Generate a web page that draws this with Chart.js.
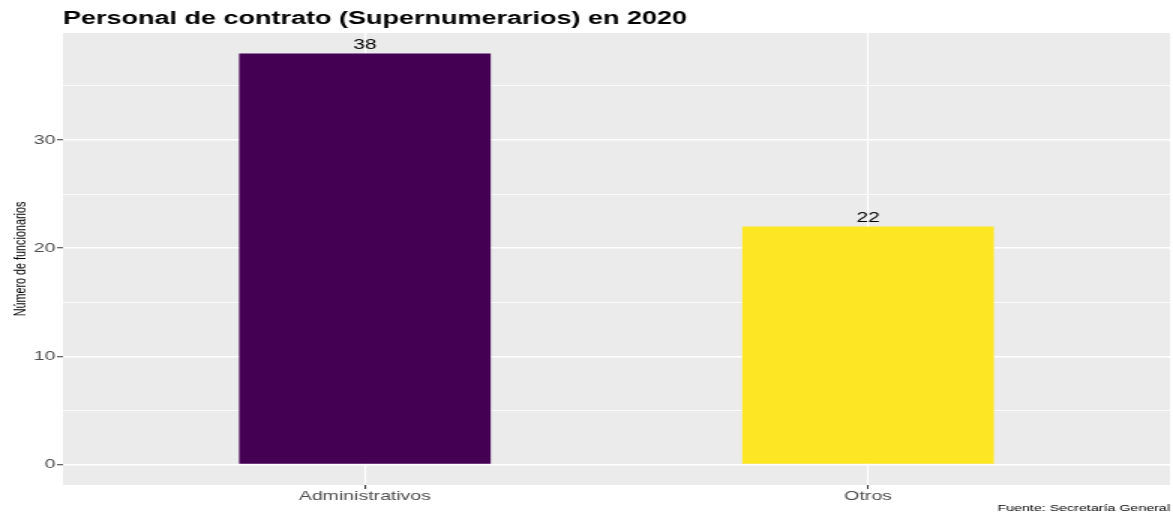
<!DOCTYPE html>
<html>
<head>
<meta charset="utf-8">
<script src="https://cdn.jsdelivr.net/npm/chart.js@4/dist/chart.umd.min.js"></script>
<style>
  html, body { margin: 0; padding: 0; background: #fff; overflow: hidden; }
</style>
</head>
<body>
<!-- la figura original está estirada en horizontal (x1.5): se dibuja a 782px y se estira a 1173px -->
<canvas id="contratoChart" width="782" height="512" style="display:block;width:1173px;height:512px"></canvas>
<script>
const categories = ['Administrativos', 'Otros'];
const values = [38, 22];
const barColors = ['#440154', '#FDE725'];
const yTicks = [0, 5, 10, 15, 20, 25, 30, 35];

const titleText = 'Personal de contrato (Supernumerarios) en 2020';
const captionText = 'Fuente: Secretaría General';
const yTitle = 'Número de funcionarios';

// fondo gris del panel, estilo ggplot
const panelBg = {
  id: 'panelBg',
  beforeDraw(chart) {
    const { ctx, chartArea } = chart;
    ctx.save();
    ctx.fillStyle = '#EBEBEB';
    ctx.fillRect(chartArea.left, chartArea.top, chartArea.right - chartArea.left, chartArea.bottom - chartArea.top);
    ctx.restore();
  }
};

// etiquetas encima de cada barra
const barLabels = {
  id: 'barLabels',
  afterDatasetsDraw(chart) {
    const { ctx } = chart;
    const meta = chart.getDatasetMeta(0);
    ctx.save();
    ctx.fillStyle = '#000000';
    ctx.font = '14px "Liberation Sans"';
    ctx.textAlign = 'center';
    ctx.textBaseline = 'bottom';
    meta.data.forEach((bar, i) => {
      ctx.fillText(String(values[i]), bar.x, bar.y - 1);
    });
    ctx.restore();
  }
};

const contratoChart = new Chart(document.getElementById('contratoChart'), {
  type: 'bar',
  data: {
    datasets: [{
      data: categories.map((c, i) => ({ x: i, y: values[i] })),
      backgroundColor: barColors,
      borderWidth: 0,
      barPercentage: 0.5,
      categoryPercentage: 1,
    }]
  },
  options: {
    responsive: false,
    devicePixelRatio: 1,
    animation: false,
    layout: {
      padding: { left: 0, right: 2, top: 0, bottom: 0 }
    },
    scales: {
      x: {
        type: 'linear',
        min: -0.6,
        max: 1.6,
        offset: false,
        bounds: 'data',
        afterBuildTicks: (scale) => {
          scale.ticks = categories.map((c, i) => ({ value: i }));
        },
        afterFit: (scale) => {
          scale.height = 19.4;
        },
        border: { display: false },
        grid: {
          offset: false,
          color: '#FFFFFF',
          lineWidth: 1.1,
          drawTicks: true,
          tickLength: 4,
          tickColor: '#333333',
          tickWidth: 1,
        },
        ticks: {
          callback: (value) => categories[value],
          color: '#4D4D4D',
          padding: 0,
          maxRotation: 0,
          autoSkip: false,
          font: {
            family: 'Liberation Sans',
            size: 13,
          }
        }
      },
      y: {
        min: -1.9,
        max: 39.9,
        afterBuildTicks: (scale) => {
          scale.ticks = yTicks.map((v) => ({ value: v }));
        },
        afterFit: (scale) => {
          scale.width = 42;
        },
        border: { display: false },
        grid: {
          color: '#FFFFFF',
          lineWidth: (ctx) => (ctx.tick && ctx.tick.value % 10 === 0 ? 1.5 : 0.75),
          drawTicks: true,
          tickLength: 4,
          tickWidth: 1,
          tickColor: (ctx) => (ctx.tick && ctx.tick.value % 10 === 0 ? '#333333' : 'rgba(0,0,0,0)'),
        },
        ticks: {
          autoSkip: false,
          callback: (value) => (value % 10 === 0 ? value : ''),
          color: '#4D4D4D',
          padding: 1,
          font: {
            family: 'Liberation Sans',
            size: 13,
          }
        },
        title: {
          display: true,
          text: yTitle,
          color: '#000000',
          padding: { top: 7.5, bottom: 0 },
          font: {
            family: 'Liberation Sans',
            size: 10.8,
          }
        }
      }
    },
    plugins: {
      legend: {
        display: false,
      },
      tooltip: {
        enabled: false,
      },
      title: {
        display: true,
        text: titleText,
        align: 'start',
        fullSize: false,
        color: '#000000',
        padding: { top: 8, bottom: 3.4 },
        font: {
          family: 'Liberation Sans',
          weight: 'bold',
          size: 18,
        }
      },
      subtitle: {
        display: true,
        text: captionText,
        position: 'bottom',
        align: 'end',
        color: '#000000',
        padding: { top: 0, bottom: 0 },
        font: {
          family: 'Liberation Sans',
          size: 9.5,
          lineHeight: 0.8,
        }
      }
    }
  },
  plugins: [panelBg, barLabels]
});
</script>
</body>
</html>
